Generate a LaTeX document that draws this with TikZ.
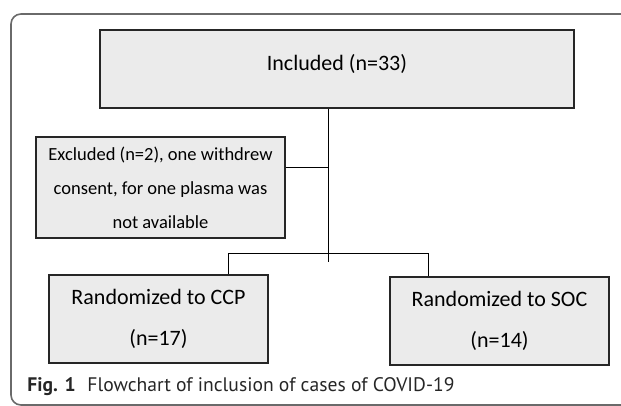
\documentclass[tikz,border=0pt]{standalone}
\usepackage{fontspec}
\setmainfont{Carlito}
\newfontfamily\capfont{PT Sans}
\usepackage{xcolor}
\usetikzlibrary{positioning}

\definecolor{boxfill}{HTML}{EBEBEB}
\definecolor{framegray}{HTML}{6A6A6A}
\definecolor{captext}{HTML}{262626}

\begin{document}
\begin{tikzpicture}[
    x=0.5pt, y=-0.5pt,
    font=\fontsize{11}{20.5}\selectfont,
    box/.style={draw=black!85, fill=boxfill, line width=0.6pt,
                align=center, inner sep=0pt},
    conn/.style={draw=black, line width=0.5pt},
    frame/.style={draw=framegray, line width=0.8pt, rounded corners=5pt},
    caption/.style={font=\capfont\fontsize{9.8}{11}\selectfont, text=captext,
                    anchor=base west, inner sep=0pt},
  ]
  \useasboundingbox (0,0) rectangle (621,406);

  % outer panel, open to the right
  \begin{scope}
    \clip (0,0) rectangle (621,406);
    \draw[frame] (11,14) rectangle (720,405);
  \end{scope}

  \node[box, minimum width=237pt, minimum height=39pt, text depth=7pt] (incl) at (337,69)
    {Included (n=33)};

  \node[box, minimum width=124.5pt, minimum height=50.5pt,
        font=\fontsize{9.25}{17}\selectfont] (excl) at (160.5,187.5)
    {Excluded (n=2), one withdrew\\consent, for one plasma was\\not available};

  \node[box, minimum width=109.5pt, minimum height=44pt] (ccp) at (158.5,319)
    {Randomized to CCP\\(n=17)};
  \node[box, minimum width=109.5pt, minimum height=44pt] (soc) at (499.5,321)
    {Randomized to SOC\\(n=14)};

  \coordinate (trunk) at (328,262);
  \coordinate (exjoin) at (328,168);
  \coordinate (brL) at (228,254);
  \coordinate (brR) at (428,254);

  \draw[conn] (incl.south -| trunk) -- (trunk);
  \draw[conn] (exjoin -| excl.east) -- (exjoin);
  \draw[conn] (ccp.north -| brL) -- (brL) -- (brR) -- (soc.north -| brR);

  \node[caption] (cap) at (27,391)
    {\textbf{Fig. 1}\hspace{0.6em}Flowchart of inclusion of cases of COVID-19};

\end{tikzpicture}
\end{document}
